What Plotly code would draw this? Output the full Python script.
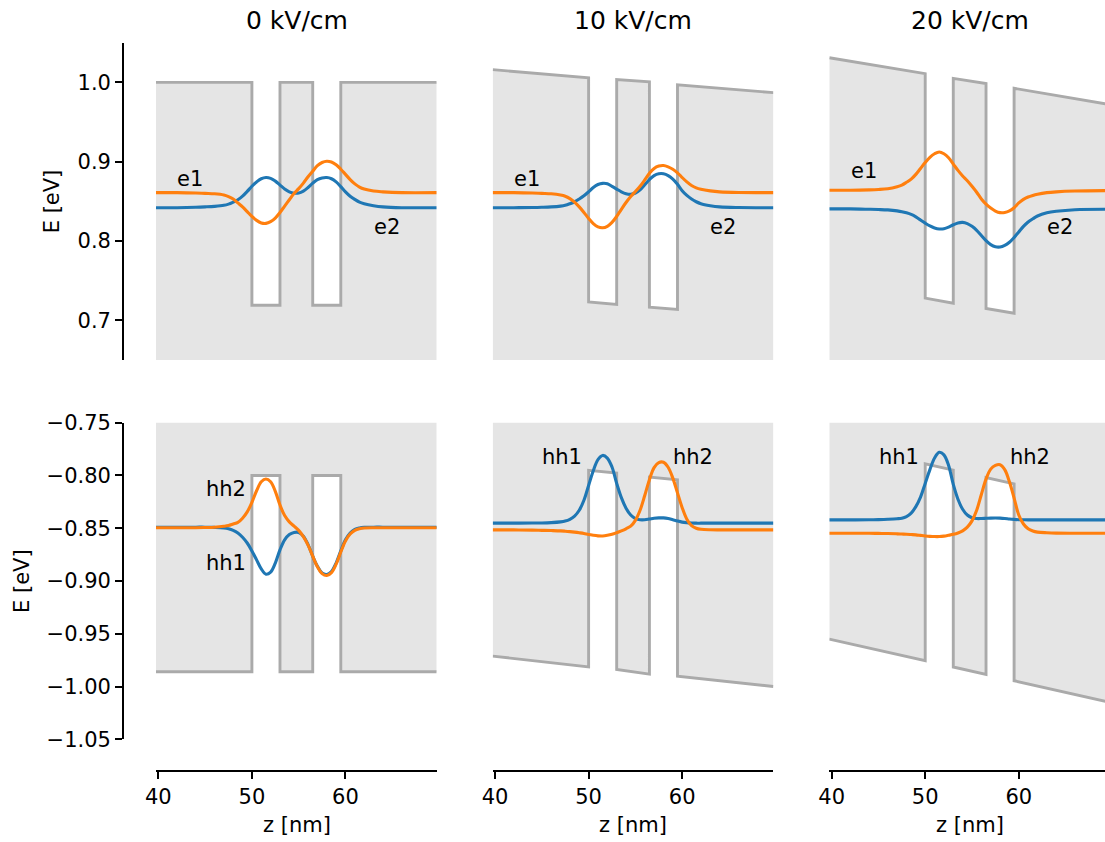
import plotly.graph_objects as go

# ---------------- data ----------------
field_titles = ["0 kV/cm", "10 kV/cm", "20 kV/cm"]

z_grid = [39.75, 42, 44, 45, 46, 47, 47.5, 48, 48.5, 49, 49.5, 50, 50.5, 51, 51.5, 52,
          52.5, 53, 53.5, 54, 54.5, 55, 55.5, 56, 56.5, 57, 57.5, 58, 58.5, 59, 59.5,
          60, 60.5, 61, 61.5, 62, 63, 64, 66, 69.75]

z_band = [39.75, 50, 50, 53, 53, 56.5, 56.5, 59.5, 59.5, 69.75]

cb_0 = [1.0, 1.0, 0.719, 0.719, 1.0, 1.0, 0.719, 0.719, 1.0, 1.0]
cb_10 = [1.016, 1.0057, 0.7232, 0.7200, 1.0035, 1.0006, 0.7165, 0.7136, 0.9968, 0.987]
cb_20 = [1.031, 1.011, 0.728, 0.7215, 1.005, 0.9985, 0.715, 0.709, 0.9925, 0.972]

vb_0 = [-0.986, -0.986, -0.80, -0.80, -0.986, -0.986, -0.80, -0.80, -0.986, -0.986]
vb_10 = [-0.9712, -0.9814, -0.7952, -0.7978, -0.9839, -0.9883, -0.8016, -0.8041, -0.9902, -1.0]
vb_20 = [-0.955, -0.9755, -0.789, -0.795, -0.9815, -0.9885, -0.802, -0.808, -0.9945, -1.015]

# electron states (blue = lower level, orange = upper level)
e_blue_0 = [0.842, 0.842, 0.8425, 0.843, 0.8437, 0.845, 0.8465, 0.849, 0.852, 0.8565, 0.8625,
            0.869, 0.8745, 0.8785, 0.880, 0.879, 0.8755, 0.8705, 0.8655, 0.862, 0.8603,
            0.8605, 0.863, 0.8675, 0.873, 0.8775, 0.8795, 0.880, 0.8785, 0.8745, 0.8685,
            0.862, 0.8565, 0.8525, 0.849, 0.847, 0.8445, 0.843, 0.842, 0.842]
e_orange_0 = [0.861, 0.861, 0.8605, 0.860, 0.8595, 0.858, 0.856, 0.853, 0.848, 0.843, 0.837,
              0.831, 0.826, 0.8228, 0.8222, 0.8245, 0.829, 0.836, 0.844, 0.852, 0.860,
              0.866, 0.873, 0.881, 0.888, 0.895, 0.899, 0.9005, 0.8995, 0.896, 0.8905,
              0.884, 0.8775, 0.872, 0.868, 0.8655, 0.863, 0.862, 0.861, 0.861]

e_blue_10 = [0.842, 0.842, 0.8422, 0.8425, 0.843, 0.844, 0.845, 0.847, 0.8495, 0.853, 0.857,
             0.862, 0.8675, 0.8712, 0.8727, 0.8722, 0.869, 0.8655, 0.862, 0.8595, 0.8588,
             0.8605, 0.8645, 0.871, 0.8775, 0.8825, 0.8848, 0.8848, 0.8825, 0.878, 0.8715,
             0.8635, 0.8575, 0.853, 0.8495, 0.847, 0.8445, 0.843, 0.8422, 0.842]
e_orange_10 = [0.861, 0.861, 0.8605, 0.860, 0.8595, 0.858, 0.8565, 0.8535, 0.849, 0.843, 0.836,
               0.8285, 0.822, 0.8178, 0.8167, 0.8185, 0.8235, 0.831, 0.840, 0.8485, 0.856,
               0.8625, 0.869, 0.877, 0.8855, 0.8915, 0.8945, 0.8952, 0.8935, 0.8905, 0.886,
               0.880, 0.8745, 0.870, 0.867, 0.8652, 0.8632, 0.862, 0.8612, 0.861]

e_blue_20 = [0.8405, 0.8405, 0.840, 0.8397, 0.8392, 0.838, 0.837, 0.8355, 0.8335, 0.8305, 0.8265,
             0.8225, 0.819, 0.8165, 0.8152, 0.8155, 0.8175, 0.8205, 0.8228, 0.8235, 0.822,
             0.8185, 0.8135, 0.807, 0.8005, 0.7955, 0.7928, 0.7925, 0.7945, 0.7985, 0.8045,
             0.8115, 0.8185, 0.824, 0.828, 0.8315, 0.8355, 0.8375, 0.8395, 0.840]
e_orange_20 = [0.864, 0.864, 0.8645, 0.865, 0.866, 0.8685, 0.8705, 0.874, 0.878, 0.884, 0.8915,
               0.899, 0.9055, 0.910, 0.9122, 0.910, 0.905, 0.897, 0.889, 0.882, 0.876,
               0.869, 0.8615, 0.853, 0.8465, 0.8415, 0.8378, 0.8358, 0.836, 0.838, 0.842,
               0.848, 0.8525, 0.8555, 0.8575, 0.859, 0.861, 0.862, 0.863, 0.8635]

# heavy-hole states
hh_blue_0 = [-0.849, -0.849, -0.849, -0.849, -0.8492, -0.8497, -0.8505, -0.852, -0.8545, -0.8585,
             -0.864, -0.8715, -0.880, -0.8885, -0.8935, -0.8915, -0.883, -0.8705, -0.861, -0.856,
             -0.854, -0.854, -0.8575, -0.8655, -0.8765, -0.886, -0.8925, -0.8938, -0.891, -0.883,
             -0.8715, -0.861, -0.8545, -0.851, -0.8497, -0.8492, -0.849, -0.849, -0.849, -0.849]
hh_orange_0 = [-0.8495, -0.8495, -0.8495, -0.8493, -0.849, -0.8482, -0.8475, -0.846, -0.8445,
               -0.8405, -0.8345, -0.8255, -0.8145, -0.806, -0.8033, -0.806, -0.815, -0.828,
               -0.838, -0.844, -0.848, -0.852, -0.858, -0.866, -0.8765, -0.8865, -0.893,
               -0.8948, -0.892, -0.884, -0.8725, -0.862, -0.8555, -0.852, -0.8505, -0.8498,
               -0.8495, -0.8495, -0.8495, -0.8495]

hh_blue_10 = [-0.8452, -0.8452, -0.8451, -0.845, -0.8447, -0.844, -0.8432, -0.8415, -0.8385,
              -0.833, -0.8235, -0.8095, -0.7955, -0.785, -0.781, -0.7835, -0.792, -0.8075,
              -0.821, -0.831, -0.8375, -0.8408, -0.842, -0.842, -0.8413, -0.8405, -0.8402,
              -0.8402, -0.8408, -0.842, -0.8432, -0.8442, -0.8447, -0.845, -0.8452, -0.8452,
              -0.8452, -0.8452, -0.8452, -0.8452]
hh_orange_10 = [-0.8516, -0.8516, -0.8518, -0.852, -0.8522, -0.8525, -0.8528, -0.8532, -0.8537,
                -0.8543, -0.855, -0.856, -0.8567, -0.8572, -0.8573, -0.8567, -0.8557, -0.8542,
                -0.8525, -0.8505, -0.848, -0.8425, -0.833, -0.819, -0.804, -0.7925, -0.7878,
                -0.7875, -0.7922, -0.8025, -0.8165, -0.8305, -0.8415, -0.8475, -0.850, -0.851,
                -0.8515, -0.8516, -0.8516, -0.8516]

hh_blue_20 = [-0.8421, -0.8421, -0.842, -0.8418, -0.8415, -0.841, -0.8405, -0.839, -0.8357,
              -0.8295, -0.8205, -0.8075, -0.7945, -0.7835, -0.7781, -0.7805, -0.7905, -0.8085,
              -0.8225, -0.832, -0.8375, -0.840, -0.8408, -0.8408, -0.8406, -0.8404, -0.8403,
              -0.8404, -0.8407, -0.8412, -0.8416, -0.8419, -0.842, -0.8421, -0.8421, -0.8421,
              -0.8421, -0.8421, -0.8421, -0.8421]
hh_orange_20 = [-0.8547, -0.8547, -0.8548, -0.8549, -0.855, -0.8553, -0.8555, -0.8557, -0.856,
                -0.8563, -0.8568, -0.8573, -0.8577, -0.8579, -0.8579, -0.8575, -0.8567, -0.8558,
                -0.8545, -0.8525, -0.849, -0.843, -0.833, -0.818, -0.8035, -0.794, -0.7905,
                -0.7898, -0.7945, -0.806, -0.8215, -0.8375, -0.846, -0.8505, -0.8527, -0.8537,
                -0.8543, -0.8546, -0.8547, -0.8547]

top_labels = [("e1", 43.4, 0.878), ("e2", 64.4, 0.8175)]
top_labels_20 = [("e1", 43.45, 0.888), ("e2", 64.4, 0.8175)]
bot_labels_0 = [("hh2", 47.2, -0.813), ("hh1", 47.2, -0.883)]
bot_labels_f = [("hh1", 47.2, -0.7825), ("hh2", 61.2, -0.7825)]

y_ticks_top = [0.7, 0.8, 0.9, 1.0]
y_ticks_bot = [-1.05, -1.00, -0.95, -0.90, -0.85, -0.80, -0.75]
x_ticks = [40, 50, 60]

# ---------------- layout geometry ----------------
W, H = 1105, 842
col_px = [(156.0, 436.7), (492.7, 773.4), (829.3, 1105.0)]
row_px = [(42.7, 360.0), (422.7, 739.3)]
x_ranges = [[39.75, 69.75], [39.75, 69.75], [39.75, 69.215]]
y_ranges = [[0.65, 1.05], [-1.05, -0.75]]

BLUE = "#1f77b4"
ORANGE = "#ff7f0e"
FILL = "#e5e5e5"
EDGE = "#aaaaaa"
FONT = "DejaVu Sans"
FS = 21

bands = [[cb_0, cb_10, cb_20], [vb_0, vb_10, vb_20]]
blues = [[e_blue_0, e_blue_10, e_blue_20], [hh_blue_0, hh_blue_10, hh_blue_20]]
oranges = [[e_orange_0, e_orange_10, e_orange_20], [hh_orange_0, hh_orange_10, hh_orange_20]]
labels = [[top_labels, top_labels, top_labels_20], [bot_labels_0, bot_labels_f, bot_labels_f]]

fig = go.Figure()
layout = dict(width=W, height=H, margin=dict(l=0, r=0, t=0, b=0, pad=0, autoexpand=False),
              paper_bgcolor="white", plot_bgcolor="white", showlegend=False,
              font=dict(family=FONT, size=FS, color="black"))
annotations = []

for r in range(2):
    for c in range(3):
        n = r * 3 + c + 1
        xs = "" if n == 1 else str(n)
        xa, ya = "x" + xs, "y" + xs
        fig.add_trace(go.Scatter(x=z_band, y=bands[r][c], mode="lines",
                                 line=dict(color=EDGE, width=2.9), fill="tozeroy",
                                 fillcolor=FILL, xaxis=xa, yaxis=ya, hoverinfo="skip"))
        fig.add_trace(go.Scatter(x=z_grid, y=blues[r][c], mode="lines",
                                 line=dict(color=BLUE, width=3.1, shape="spline", smoothing=1),
                                 xaxis=xa, yaxis=ya))
        fig.add_trace(go.Scatter(x=z_grid, y=oranges[r][c], mode="lines",
                                 line=dict(color=ORANGE, width=3.1, shape="spline", smoothing=1),
                                 xaxis=xa, yaxis=ya))
        x0, x1 = col_px[c]
        y0, y1 = row_px[r]
        xd = [x0 / W, x1 / W]
        yd = [1 - y1 / H, 1 - y0 / H]
        xaxis = dict(domain=xd, range=x_ranges[c], showgrid=False, zeroline=False,
                     automargin=False)
        if r == 1:
            xaxis.update(anchor="free", position=1 - 771.0 / H, showline=True,
                         linecolor="black", linewidth=1.7, ticks="outside", ticklen=7,
                         tickwidth=1.7, tickcolor="black", tickvals=x_ticks,
                         tickfont=dict(family=FONT, size=FS, color="black"))
        else:
            xaxis.update(anchor=ya, visible=False)
        yaxis = dict(domain=yd, range=y_ranges[r], showgrid=False, zeroline=False,
                     automargin=False)
        if c == 0:
            yaxis.update(anchor="free", position=123.0 / W, showline=True,
                         linecolor="black", linewidth=1.7, ticks="outside", ticklen=7,
                         tickwidth=1.7, tickcolor="black",
                         tickvals=y_ticks_top if r == 0 else y_ticks_bot,
                         tickformat=".1f" if r == 0 else ".2f",
                         tickfont=dict(family=FONT, size=FS, color="black"))
        else:
            yaxis.update(anchor=xa, visible=False)
        layout["xaxis" + xs] = xaxis
        layout["yaxis" + xs] = yaxis
        for txt, zx, ey in labels[r][c]:
            annotations.append(dict(text=txt, x=zx, y=ey, xref=xa, yref=ya,
                                    showarrow=False, xanchor="center", yanchor="middle",
                                    font=dict(family=FONT, size=FS, color="black")))
        if r == 0:
            annotations.append(dict(text=field_titles[c], x=(x0 + 281.0 / 2) / W,
                                    y=1 - 21.0 / H, xref="paper", yref="paper",
                                    showarrow=False, xanchor="center", yanchor="middle",
                                    font=dict(family=FONT, size=25, color="black")))
        else:
            annotations.append(dict(text="z [nm]", x=(x0 + 281.0 / 2) / W,
                                    y=1 - 825.0 / H, xref="paper", yref="paper",
                                    showarrow=False, xanchor="center", yanchor="middle",
                                    font=dict(family=FONT, size=FS, color="black")))

annotations.append(dict(text="E [eV]", x=52.0 / W, y=1 - 201.3 / H, xref="paper", yref="paper",
                        showarrow=False, textangle=-90, xanchor="center", yanchor="middle",
                        font=dict(family=FONT, size=FS, color="black")))
annotations.append(dict(text="E [eV]", x=22.0 / W, y=1 - 581.0 / H, xref="paper", yref="paper",
                        showarrow=False, textangle=-90, xanchor="center", yanchor="middle",
                        font=dict(family=FONT, size=FS, color="black")))

layout["annotations"] = annotations
fig.update_layout(**layout)
fig.write_html("out.html",
               post_script="document.body.style.margin='0';document.body.style.padding='0';"
                           "document.body.style.overflow='hidden';")
